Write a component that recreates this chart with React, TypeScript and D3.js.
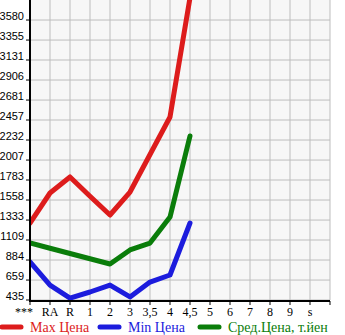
import React from "react";
import * as d3 from "d3";

const categories = ["***", "RA", "R", "1", "2", "3", "3,5", "4", "4,5", "5", "6", "7", "8", "9", "s"];
const yTicks = [435, 659, 884, 1109, 1333, 1558, 1783, 2007, 2232, 2457, 2681, 2906, 3131, 3355, 3580];
const maxPrice: (number | null)[] = [1300, 1637, 1817, 1600, 1390, 1648, 2070, 2491, 3830, null, null, null, null, null, null];
const minPrice: (number | null)[] = [862, 603, 457, 525, 603, 470, 637, 716, 1300, null, null, null, null, null, null];
const avgPrice: (number | null)[] = [1075, 1016, 957, 898, 839, 997, 1075, 1367, 2277, null, null, null, null, null, null];
const seriesNames = ["Max Цена", "Min Цена", "Сред.Цена, т.йен"];
const seriesColors = ["#dd1c1c", "#1c1cdd", "#0a7d0a"];

export default function App() {
  const W = 345, H = 335;
  const left = 30, right = 330, top = 0, bottom = 300;
  const x = d3.scaleLinear().domain([0, 15]).range([left, right]);
  const y = d3.scaleLinear().domain([435, 435 + 15 * 224.6667]).range([bottom, top]);
  const line = d3
    .line<number | null>()
    .defined((d) => d != null)
    .x((_, i) => x(i))
    .y((d) => y(d as number));
  const series = [maxPrice, minPrice, avgPrice];
  const vGrid = d3.range(1, 16);
  const legendX = [0, 98, 198];
  return (
    <svg
      width={W}
      height={H}
      style={{ position: "absolute", left: 0, top: 0 }}
    >
      <defs>
        <clipPath id="plot">
          <rect x={left} y={top} width={right - left} height={bottom - top + 3} />
        </clipPath>
      </defs>
      <rect x={left} y={top} width={right - left} height={bottom - top} fill="#f7f7f7" />
      {yTicks.map((t) => (
        <line key={"h" + t} x1={left} x2={right} y1={y(t)} y2={y(t)} stroke="#bdbdbd" strokeWidth={1} />
      ))}
      {vGrid.map((i) => (
        <line key={"v" + i} x1={x(i)} x2={x(i)} y1={top} y2={bottom} stroke="#bdbdbd" strokeWidth={1} />
      ))}
      <g clipPath="url(#plot)">
        {series.map((s, k) => (
          <path
            key={k}
            d={line(s) || ""}
            fill="none"
            stroke={seriesColors[k]}
            strokeWidth={5}
            strokeLinejoin="round"
            strokeLinecap="round"
          />
        ))}
      </g>
      <line x1={left} x2={left} y1={top} y2={bottom + 1} stroke="#000" strokeWidth={2} />
      <line x1={left - 1} x2={right} y1={bottom + 1} y2={bottom + 1} stroke="#000" strokeWidth={2} />
      {yTicks.map((t) => (
        <g key={"yt" + t}>
          <line x1={left - 4} x2={left} y1={y(t)} y2={y(t)} stroke="#000" strokeWidth={1} />
          <text
            x={left - 6}
            y={y(t) - 0.5}
            textAnchor="end"
            fontFamily="Liberation Sans, Arial, sans-serif"
            fontSize={11}
            fill="#000"
          >
            {t}
          </text>
        </g>
      ))}
      {d3.range(0, 16).map((i) => (
        <line key={"xt" + i} x1={x(i)} x2={x(i)} y1={bottom + 1} y2={bottom + 5} stroke="#000" strokeWidth={1} />
      ))}
      {categories.map((c, i) => (
        <text
          key={"xl" + i}
          x={i === 0 ? x(i) - 6 : x(i)}
          y={bottom + 16}
          textAnchor="middle"
          fontFamily="Liberation Serif, Times New Roman, serif"
          fontSize={12}
          fill="#000"
        >
          {c}
        </text>
      ))}
      {seriesNames.map((n, k) => (
        <g key={"lg" + k}>
          <line
            x1={legendX[k] + 2}
            x2={legendX[k] + 21}
            y1={327}
            y2={327}
            stroke={seriesColors[k]}
            strokeWidth={5}
            strokeLinecap="round"
          />
          <text
            x={legendX[k] + 30}
            y={332}
            fontFamily="Liberation Serif, Times New Roman, serif"
            fontSize={14}
            fill={seriesColors[k]}
          >
            {n}
          </text>
        </g>
      ))}
    </svg>
  );
}
